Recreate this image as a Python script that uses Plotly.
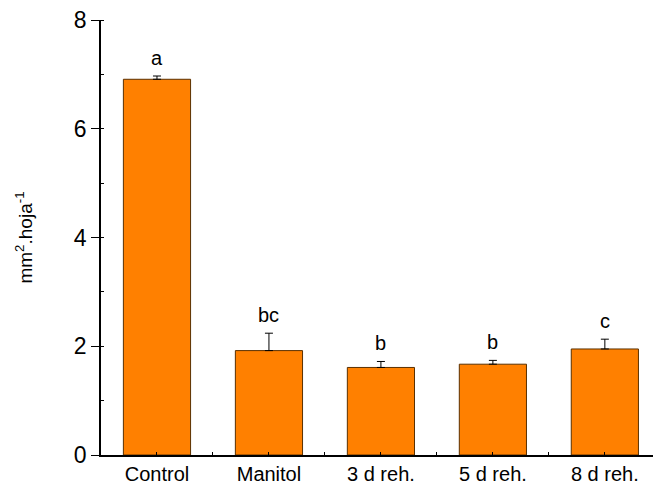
import plotly.graph_objects as go

categories = ["Control", "Manitol", "3 d reh.", "5 d reh.", "8 d reh."]
values = [6.91, 1.92, 1.61, 1.67, 1.95]
errors = [0.06, 0.32, 0.11, 0.07, 0.18]
letters = ["a", "bc", "b", "b", "c"]
y_ticks = [0, 2, 4, 6, 8]

FONT = "Arial, Liberation Sans, sans-serif"
xs = list(range(len(categories)))

fig = go.Figure()
fig.add_trace(go.Bar(
    x=xs, y=values, width=0.6,
    marker=dict(color="#FF8000", line=dict(color="#5a3000", width=1)),
    error_y=dict(type="data", array=errors, arrayminus=[0] * len(errors),
                 symmetric=False, color="black", thickness=1, width=4),
    showlegend=False,
))

for x, v, e, t in zip(xs, values, errors, letters):
    fig.add_annotation(x=x, y=v + e, text=t, showarrow=False, yanchor="middle",
                       yshift=18, font=dict(family=FONT, size=20, color="black"))

fig.update_layout(
    width=653, height=490,
    margin=dict(l=101, r=0, t=20, b=35),
    plot_bgcolor="white", paper_bgcolor="white",
    font=dict(family=FONT, color="black"),
    bargap=0.4,
)
fig.update_xaxes(
    range=[-0.5, 4.43], tickvals=xs, ticktext=categories,
    showline=True, linecolor="black", linewidth=1.5,
    ticks="inside", ticklen=3, tickcolor="black",
    minor=dict(tick0=0.5, dtick=1, ticks="inside", ticklen=3, tickcolor="black"),
    showgrid=False, zeroline=False, automargin=False,
    tickfont=dict(family=FONT, size=20),
)
fig.update_yaxes(
    range=[0, 8], tickvals=y_ticks,
    showline=True, linecolor="black", linewidth=1.5,
    ticks="outside", ticklen=8, tickcolor="black",
    minor=dict(dtick=1, ticks="inside", ticklen=3, tickcolor="black"),
    showgrid=False, zeroline=False, automargin=False,
    tickfont=dict(family=FONT, size=23),
    title=dict(text="mm<sup>2</sup>.hoja<sup>-1</sup>", standoff=36,
               font=dict(family=FONT, size=19)),
)

fig.write_html(
    "out.html",
    config={"displayModeBar": False},
    post_script="document.body.style.margin='0';document.body.style.overflow='hidden';",
)
